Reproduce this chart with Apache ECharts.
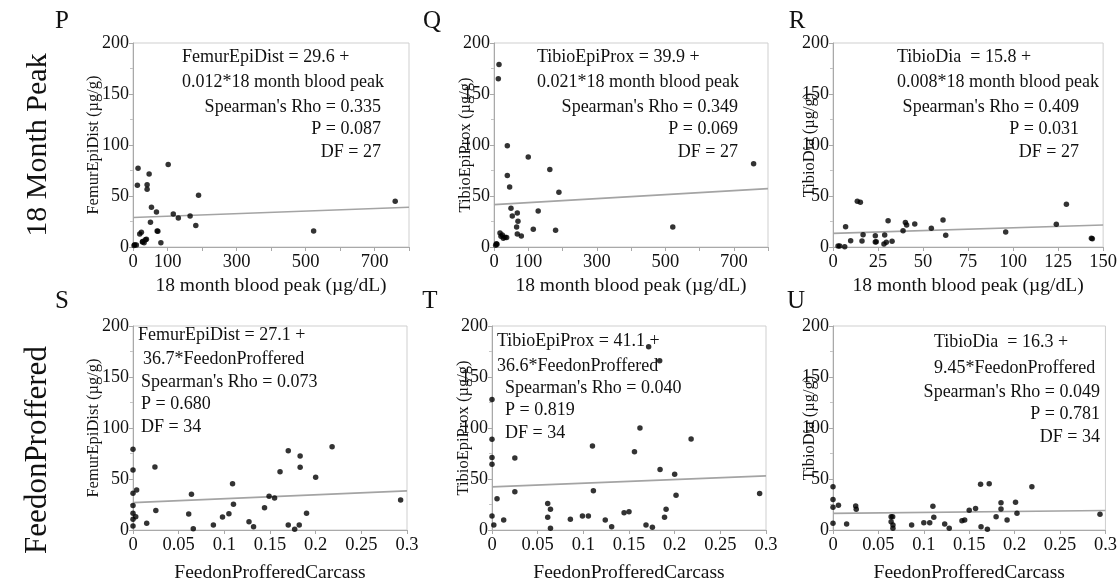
<!DOCTYPE html>
<html>
<head>
<meta charset="utf-8">
<script src="https://cdn.jsdelivr.net/npm/echarts@6/dist/echarts.min.js"></script>
<style>html,body{margin:0;padding:0;background:#fff}#c{width:1120px;height:584px}</style>
</head>
<body>
<div id="c"></div>
<script>
// ---------- data ----------
const yTicks = [0, 50, 100, 150, 200];
const peakTickLabels = [0, 100, 300, 500, 700];
const diaTickLabels = [0, 25, 50, 75, 100, 125, 150];
const feedTickLabels = [0, 0.05, 0.1, 0.15, 0.2, 0.25, 0.3];

const pX = [14.6, 12.7, 46.7, 40.9, 40.9, 102, 190, 53.5, 68, 50.6, 116.8, 131.4, 165.5, 182, 70, 19.5, 24.3, 38.9, 27.3, 32.1, 80.8, 4.9, 9.7, 523.6, 760, 3, 28, 72, 36];
const pY = [77.1, 60.5, 71.6, 61.1, 56.5, 81, 50.7, 38.9, 34.3, 24.2, 32.4, 28.4, 30.4, 21.2, 15.7, 12.7, 14.4, 7.5, 4.9, 4.2, 4.2, 2.3, 2.0, 15.7, 44.8, 1.5, 5.5, 15.5, 7];

const qX = [14.6, 12.6, 38.9, 38.9, 45.7, 100, 163, 189.5, 49.6, 53.4, 68, 70, 66, 68, 79.7, 129, 114.7, 179.8, 522, 758, 17.5, 24.3, 27.2, 36.9, 6.8, 4.9, 20.4, 8.7, 32];
const qY = [179, 165, 99.3, 70, 58.8, 88.2, 76.1, 53.6, 37.9, 30.4, 33.3, 25.2, 19.6, 12.7, 10.8, 35.3, 17.3, 16.3, 19.6, 81.7, 13.7, 11.8, 8.5, 9.2, 3.3, 1.6, 10.5, 2.6, 9.5];

const rX = [13.5, 15.2, 7.0, 30.6, 40.2, 40.9, 45.4, 54.6, 61.1, 62.6, 38.9, 95.9, 124, 129.6, 143.5, 16.7, 16.1, 9.8, 23.5, 23.5, 28.7, 28.3, 29.6, 32.8, 2.8, 3.7, 6.5, 144, 24];
const rY = [44.8, 43.8, 19.9, 25.8, 23.9, 21.6, 22.5, 18.3, 26.5, 11.4, 16.0, 14.7, 22.2, 41.8, 8.5, 12.1, 5.9, 6.2, 11.1, 4.9, 11.8, 2.9, 4.6, 5.6, 1.0, 1.0, 0.3, 8.0, 5.2];

const sX = [0, 0, 0, 0.004, 0.024, 0.064, 0.109, 0.110, 0.025, 0.061, 0.098, 0.105, 0.149, 0.155, 0.144, 0.161, 0.170, 0.183, 0.183, 0.200, 0.218, 0.293, 0.190, 0, 0, 0.015, 0.066, 0.088, 0.127, 0.132, 0.170, 0.177, 0.182, 0, 0, 0.003];
const sY = [79.1, 58.8, 36, 39.2, 61.8, 35, 45.4, 25.2, 19, 15.7, 12.7, 16, 33, 31.4, 21.9, 57.2, 77.8, 72.5, 61.4, 51.6, 81.7, 29.4, 16.3, 16.3, 10.5, 6.5, 1.3, 4.9, 8.2, 3.3, 4.9, 0.7, 4.9, 24, 4, 13];

const tX = [0, 0, 0, 0, 0.0055, 0.025, 0.025, 0.110, 0.111, 0.061, 0.064, 0.156, 0.162, 0.184, 0.200, 0.218, 0.2015, 0.1906, 0.293, 0.1446, 0.150, 0.061, 0.0858, 0.099, 0.1055, 0.124, 0.1889, 0.0128, 0, 0.1715, 0.1836, 0.064, 0.131, 0.1686, 0.1756, 0.002];
const tY = [128, 88.9, 71.2, 64.4, 30.7, 70.6, 37.6, 82.4, 38.6, 26.1, 20.3, 76.8, 100, 59.2, 54.6, 89.2, 34, 20.3, 35.9, 17, 18, 12.4, 10.5, 13.7, 13.7, 9.8, 12.4, 9.8, 13.7, 179.7, 166, 1.6, 3.3, 4.9, 2.6, 5];

const uX = [0, 0, 0, 0.006, 0.025, 0.0256, 0.110, 0.111, 0.150, 0.157, 0.1625, 0.172, 0.185, 0.185, 0.201, 0.2026, 0.219, 0.1796, 0.1917, 0.294, 0.064, 0.0657, 0.145, 0, 0.015, 0.064, 0.066, 0.066, 0.0866, 0.1, 0.1065, 0.123, 0.128, 0.142, 0.163, 0.170];
const uY = [42.5, 30, 22.2, 24.2, 23.5, 20.3, 23.2, 12.4, 19.3, 21.2, 44.8, 45.4, 26.8, 20.6, 27.1, 16.3, 42.5, 13, 9.8, 15.4, 13, 13, 9.8, 6.5, 5.9, 8.2, 4.9, 1.6, 4.9, 7.2, 7.2, 5.9, 1.6, 9.1, 3.3, 0.7];

// fitted line values at the left and right edge of each x range
const fitStart = [28.9, 41.5, 13.4, 26.8, 42.3, 16.3];
const fitEnd = [38.9, 57.2, 21.6, 38.4, 53.1, 19.1];

const panelLetters = ['P', 'Q', 'R', 'S', 'T', 'U'];
const yNames = ['FemurEpiDist (µg/g)', 'TibioEpiProx (µg/g)', 'TibioDia (µg/g)', 'FemurEpiDist (µg/g)', 'TibioEpiProx (µg/g)', 'TibioDia (µg/g)'];
const xNames = ['18 month blood peak (µg/dL)', '18 month blood peak (µg/dL)', '18 month blood peak (µg/dL)', 'FeedonProfferedCarcass', 'FeedonProfferedCarcass', 'FeedonProfferedCarcass'];
const rowLabels = ['18 Month Peak', 'FeedonProffered'];
const annP = ['FemurEpiDist = 29.6 +', '0.012*18 month blood peak', "Spearman's Rho = 0.335", 'P = 0.087', 'DF = 27'];
const annQ = ['TibioEpiProx = 39.9 +', '0.021*18 month blood peak', "Spearman's Rho = 0.349", 'P = 0.069', 'DF = 27'];
const annR = ['TibioDia  = 15.8 +', '0.008*18 month blood peak', "Spearman's Rho = 0.409", 'P = 0.031', 'DF = 27'];
const annS = ['FemurEpiDist = 27.1 +', '36.7*FeedonProffered', "Spearman's Rho = 0.073", 'P = 0.680', 'DF = 34'];
const annT = ['TibioEpiProx = 41.1 +', '36.6*FeedonProffered', "Spearman's Rho = 0.040", 'P = 0.819', 'DF = 34'];
const annU = ['TibioDia  = 16.3 +', '9.45*FeedonProffered', "Spearman's Rho = 0.049", 'P = 0.781', 'DF = 34'];

// ---------- layout ----------
const FONT = "'Liberation Serif', 'Times New Roman', serif";
const grids = [
  {left: 133, top: 43, width: 276, height: 204},
  {left: 494, top: 43, width: 274, height: 204},
  {left: 833, top: 43, width: 274, height: 204},
  {left: 133, top: 326, width: 274, height: 204},
  {left: 492, top: 326, width: 274, height: 204},
  {left: 833, top: 326, width: 274, height: 204}
];
const yNameGap = [31, 20, 15, 31, 20, 15];
const xSpec = [
  {max: 800, interval: 100, labels: peakTickLabels},
  {max: 800, interval: 100, labels: peakTickLabels},
  {max: 150, interval: 25, labels: diaTickLabels},
  {max: 0.3, interval: 0.05, labels: feedTickLabels},
  {max: 0.3, interval: 0.05, labels: feedTickLabels},
  {max: 0.3, interval: 0.05, labels: feedTickLabels}
];
const xsAll = [pX, qX, rX, sX, tX, uX];
const ysAll = [pY, qY, rY, sY, tY, uY];

const axisGray = '#a9a9a9';
const option = {
  animation: false,
  backgroundColor: '#fff',
  grid: grids.map(g => Object.assign({show: true, borderColor: '#cfcfcf', borderWidth: 1, backgroundColor: 'transparent'}, g)),
  xAxis: xSpec.map((s, i) => ({
    type: 'value', gridIndex: i, min: 0, max: s.max, interval: s.interval,
    name: xNames[i], nameLocation: 'middle', nameGap: i < 3 ? 29 : 33, nameMoveOverlap: false,
    nameTextStyle: {fontFamily: FONT, fontSize: 19.5, color: '#111', verticalAlign: 'top'},
    axisLine: {show: true, onZero: false, lineStyle: {color: axisGray, width: 1}},
    axisTick: {show: true, length: 4, lineStyle: {color: axisGray}},
    splitLine: {show: false},
    axisLabel: {
      margin: 6, fontFamily: FONT, fontSize: 18.5, color: '#111', showMaxLabel: true, showMinLabel: true,
      hideOverlap: false,
      formatter: v => {
        const hit = s.labels.find(l => Math.abs(l - v) < 1e-9);
        return hit === undefined ? '' : String(hit);
      }
    }
  })),
  yAxis: grids.map((g, i) => ({
    type: 'value', gridIndex: i, min: 0, max: 200, interval: 50,
    name: yNames[i], nameLocation: 'middle', nameGap: yNameGap[i], nameRotate: 90, nameMoveOverlap: false,
    nameTextStyle: {fontFamily: FONT, fontSize: 16.5, color: '#111'},
    axisLine: {show: true, lineStyle: {color: axisGray, width: 1}},
    axisTick: {show: true, length: 4, lineStyle: {color: axisGray}},
    minorTick: {show: true, splitNumber: 2, length: 3, lineStyle: {color: '#c4c4c4'}},
    splitLine: {show: false},
    axisLabel: {margin: 4, fontFamily: FONT, fontSize: 18, color: '#111', hideOverlap: false,
      formatter: v => (yTicks.indexOf(v) >= 0 ? String(v) : '')}
  })),
  series: []
};

xsAll.forEach((xs, i) => {
  option.series.push({
    type: 'line', xAxisIndex: i, yAxisIndex: i, symbol: 'none', silent: true,
    lineStyle: {color: '#a4a4a4', width: 1.6},
    data: [[0, fitStart[i]], [xSpec[i].max, fitEnd[i]]], z: 2
  });
  option.series.push({
    type: 'scatter', xAxisIndex: i, yAxisIndex: i, symbolSize: 5.5,
    itemStyle: {color: '#000'}, z: 3,
    data: xs.map((x, k) => [x, ysAll[i][k]])
  });
});

// ---------- text ----------
const graphic = [];
function txt(x, y, text, align, size, extra) {
  graphic.push(Object.assign({
    type: 'text', x: x, y: y, silent: true, z: 100,
    style: {text: text, fontFamily: FONT, fontSize: size || 18, fill: '#111', textAlign: align || 'left', textVerticalAlign: 'middle'}
  }, extra || {}));
}
const lineYTop = [57, 82, 107, 129.5, 152];
annP.forEach((t, k) => txt(k < 2 ? 182 : 381, lineYTop[k], t, k < 2 ? 'left' : 'right'));
annQ.forEach((t, k) => txt(k < 2 ? 537 : 738, lineYTop[k], t, k < 2 ? 'left' : 'right'));
annR.forEach((t, k) => txt(k < 2 ? 897 : 1079, lineYTop[k], t, k < 2 ? 'left' : 'right'));
const sPos = [[138, 335], [143, 359], [141, 382], [141, 404], [141, 427]];
annS.forEach((t, k) => txt(sPos[k][0], sPos[k][1], t, 'left'));
const tPos = [[497, 341], [497, 366], [505, 388], [505, 410], [505, 433]];
annT.forEach((t, k) => txt(tPos[k][0], tPos[k][1], t, 'left'));
const uPos = [[934, 342, 'left'], [934, 368, 'left'], [1100, 392, 'right'], [1100, 414, 'right'], [1100, 437, 'right']];
annU.forEach((t, k) => txt(uPos[k][0], uPos[k][1], t, uPos[k][2]));

const letterPos = [[62, 21], [432, 21], [797, 21], [62, 301], [430, 301], [796, 301]];
panelLetters.forEach((l, k) => txt(letterPos[k][0], letterPos[k][1], l, 'center', 25));

txt(38, 145, rowLabels[0], 'center', 30, {rotation: Math.PI / 2});
txt(38, 450, rowLabels[1], 'center', 31, {rotation: Math.PI / 2});
option.graphic = graphic;

const chart = echarts.init(document.getElementById('c'), null, {renderer: 'canvas'});
chart.setOption(option);
</script>
</body>
</html>
